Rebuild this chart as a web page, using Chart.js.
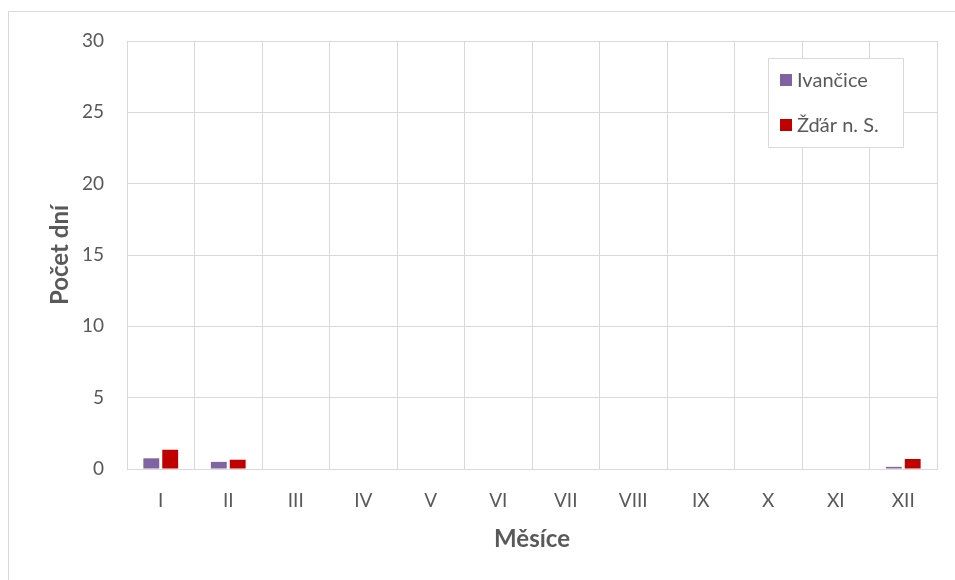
<!DOCTYPE html>
<html lang="cs">
<head>
  <meta charset="UTF-8" />
  <title>Počet dní</title>
  <script src="https://cdn.jsdelivr.net/npm/chart.js"></script>
  <style>
    body { margin: 0; background: #fff; }
    .frame {
      position: absolute; left: 8px; top: 11px;
      width: 1000px; height: 600px;
      border: 1px solid #d9d9d9;
    }
    .chart-box { position: absolute; left: 0; top: 0; width: 955px; height: 580px; }
  </style>
</head>
<body>
  <div class="frame"></div>
  <div class="chart-box"><canvas id="chart" width="955" height="580"></canvas></div>

  <script>
    const months = ['I', 'II', 'III', 'IV', 'V', 'VI', 'VII', 'VIII', 'IX', 'X', 'XI', 'XII'];
    const ivancice = [0.75, 0.5, 0, 0, 0, 0, 0, 0, 0, 0, 0, 0.15];
    const zdar = [1.35, 0.65, 0, 0, 0, 0, 0, 0, 0, 0, 0, 0.7];
    const yTicks = [0, 5, 10, 15, 20, 25, 30];

    const FONT = 'Lato, "Open Sans", sans-serif';
    const GRID = '#d9d9d9';

    // legend box drawn inside the plot, like the original
    const boxLegend = {
      id: 'boxLegend',
      afterDraw(chart) {
        const ctx = chart.ctx;
        const x = 768, y = 58, w = 135, h = 89;
        ctx.save();
        ctx.fillStyle = '#fff';
        ctx.fillRect(x, y, w, h);
        ctx.strokeStyle = GRID;
        ctx.lineWidth = 1;
        ctx.strokeRect(x + 0.5, y + 0.5, w, h);
        ctx.font = '20px ' + FONT;
        ctx.textBaseline = 'middle';
        chart.data.datasets.forEach((ds, i) => {
          const cy = y + 22 + i * 45;
          ctx.fillStyle = ds.backgroundColor;
          ctx.fillRect(x + 12, cy - 6, 12, 12);
          ctx.fillStyle = '#595959';
          ctx.fillText(ds.label, x + 29, cy + 1);
        });
        ctx.restore();
      }
    };

    new Chart(document.getElementById('chart'), {
      type: 'bar',
      data: {
        labels: months,
        datasets: [
          { label: 'Ivančice', data: ivancice, backgroundColor: '#8064a2' },
          { label: 'Žďár n. S.', data: zdar, backgroundColor: '#c00000' }
        ]
      },
      options: {
        responsive: false,
        animation: false,
        layout: { padding: { top: 41, right: 18, bottom: 0, left: 0 } },
        datasets: { bar: { categoryPercentage: 0.56, barPercentage: 0.84 } },
        plugins: { legend: { display: false }, tooltip: { enabled: false } },
        scales: {
          x: {
            offset: true,
            grid: { offset: true, color: GRID, drawTicks: false },
            border: { color: GRID },
            ticks: { color: '#595959', font: { family: FONT, size: 19 }, padding: 20 },
            title: {
              display: true, text: 'Měsíce', color: '#595959',
              font: { family: FONT, size: 24, weight: 'bold' },
              padding: { top: 0, bottom: 26 }
            },
            afterFit(scale) { scale.height = 111; }
          },
          y: {
            min: 0, max: 30,
            afterBuildTicks(scale) { scale.ticks = yTicks.map(v => ({ value: v })); },
            grid: { color: GRID, drawTicks: false },
            border: { display: false },
            ticks: { color: '#595959', font: { family: FONT, size: 19 }, padding: 23 },
            title: {
              display: true, text: 'Počet dní', color: '#595959',
              font: { family: FONT, size: 24, weight: 'bold' },
              padding: { top: 46, bottom: 0 }
            },
            afterFit(scale) { scale.width = 127; }
          }
        }
      },
      plugins: [boxLegend]
    });
  </script>
</body>
</html>
